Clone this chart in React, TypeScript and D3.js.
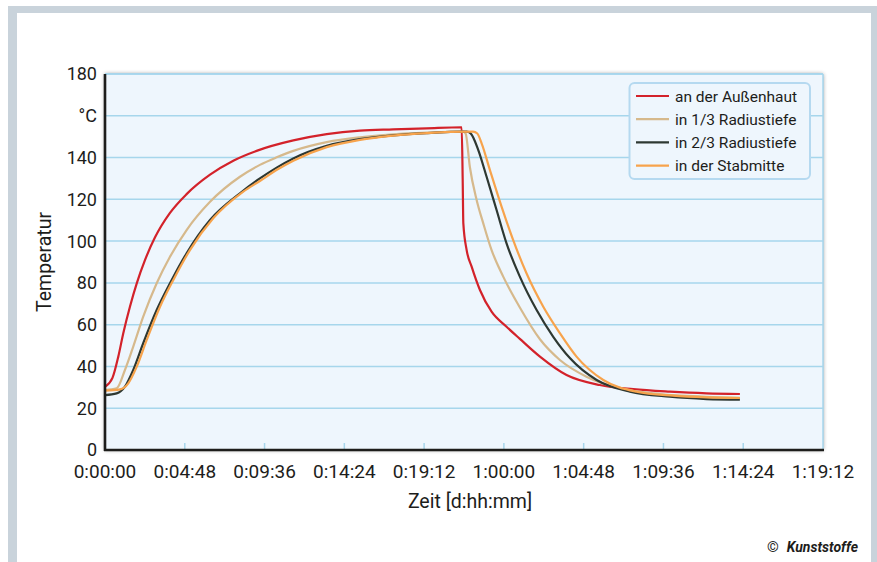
import * as d3 from "d3";
import React from "react";

// time in minutes (axis tick every 4.8 min), temperature in °C
const xTickValues = [0, 4.8, 9.6, 14.4, 19.2, 24, 28.8, 33.6, 38.4, 43.2];
const xTickLabels = ["0:00:00", "0:04:48", "0:09:36", "0:14:24", "0:19:12", "1:00:00", "1:04:48", "1:09:36", "1:14:24", "1:19:12"];
const yTickValues = [0, 20, 40, 60, 80, 100, 120, 140, 160, 180];
const yTickLabels = ["0", "20", "40", "60", "80", "100", "120", "140", "°C", "180"];

const seriesNames = ["an der Außenhaut", "in 1/3 Radiustiefe", "in 2/3 Radiustiefe", "in der Stabmitte"];
const seriesColors = ["#d3222a", "#d6b98c", "#2e3832", "#f7a34c"];

const aussenhaut: [number, number][] = [
  [0, 30.3], [0.45, 34.5], [0.8, 44.7], [1.1, 55.9], [1.5, 68.6], [1.91, 79.8], [2.41, 91], [3.01, 101.8],
  [3.91, 113.5], [4.91, 122.5], [6.32, 131.8], [7.72, 138.5], [9.12, 143.2], [11.33, 148.2], [13.34, 151.2],
  [15.34, 152.9], [17.34, 153.5], [19.35, 154], [21.46, 154.5], [21.52, 130], [21.56, 108.5], [21.76, 95.7],
  [22.06, 87.8], [22.56, 76.6], [23.26, 66.2], [24.16, 59], [24.96, 53.2], [26.17, 44.7], [27.77, 35.9],
  [29.77, 31.1], [31.78, 29.1], [33.98, 27.9], [36.19, 27.1], [38.2, 26.8],
];
const radius13: [number, number][] = [
  [0, 28.7], [0.7, 29.5], [1.2, 38.3], [1.7, 49.5], [2.3, 63.8], [3.11, 79.8], [3.91, 92.5], [4.91, 105.3],
  [6.32, 118.8], [8.12, 130.8], [9.32, 136.5], [10.33, 140.1], [11.33, 143.2], [13.34, 147.4], [15.34, 149.7],
  [17.34, 151.1], [19.35, 151.9], [21.55, 152.4], [21.7, 151.5], [21.95, 135.6], [22.36, 119.7], [22.76, 108.5],
  [23.26, 95.7], [23.96, 83], [24.96, 68.2], [26.17, 53], [27.37, 43.1], [28.97, 35.1], [30.98, 29.5],
  [33.38, 26.8], [36.19, 25.5], [38.2, 25],
];
const radius23: [number, number][] = [
  [0, 26.3], [0.7, 27.1], [1.2, 30.3], [1.7, 38.3], [2.3, 51.1], [3.11, 67], [3.91, 79.8], [4.91, 94.2],
  [6.32, 110.1], [8.12, 122.9], [9.32, 130], [10.33, 135.2], [11.33, 139.6], [13.34, 145.6], [15.34, 148.8],
  [17.34, 150.6], [19.35, 151.7], [21.76, 152.4], [22.0, 151.6], [22.46, 143.6], [22.96, 130.8], [23.56, 114.9],
  [24.16, 98.9], [24.96, 83], [25.97, 67], [26.97, 54.2], [27.97, 44], [29.58, 33.5], [31.58, 27.9],
  [33.98, 25.5], [36.19, 24.4], [38.2, 24.1],
];
const stabmitte: [number, number][] = [
  [0, 28.4], [0.9, 29], [1.4, 31.9], [1.91, 39.9], [2.51, 52.7], [3.31, 68.6], [4.11, 81.4], [5.11, 95.7],
  [6.51, 110.9], [8.32, 123.7], [9.32, 128.8], [10.42, 134.5], [11.33, 138.5], [13.34, 145], [15.34, 148.5],
  [17.34, 150.5], [19.35, 151.7], [22.15, 152.4], [22.4, 151.5], [22.66, 146.8], [23.16, 134], [23.86, 116.5],
  [24.56, 100.5], [25.36, 84.6], [26.37, 68.6], [27.37, 55.9], [28.37, 44.7], [29.98, 33.5], [31.98, 27.9],
  [34.18, 26], [36.19, 25.2], [38.2, 24.9],
];
const seriesData = [aussenhaut, radius13, radius23, stabmitte];

const W = 877;
const H = 562;
const left = 105;
const right = 823;
const top = 74;
const bottom = 450;
const font = "Roboto, 'Open Sans', sans-serif";

export default function App() {
  const x = d3.scaleLinear().domain([0, 43.2]).range([left, right]);
  const y = d3.scaleLinear().domain([0, 180]).range([bottom, top]);
  const line = d3
    .line<[number, number]>()
    .x((d) => x(d[0]))
    .y((d) => y(d[1]))
    .curve(d3.curveMonotoneX);

  return (
    <svg width={W} height={H} style={{ position: "absolute", left: 0, top: 0 }} fontFamily={font}>
      <defs>
        <filter id="shadow" x="-5%" y="-5%" width="110%" height="110%">
          <feDropShadow dx="0" dy="0" stdDeviation="2.2" floodColor="#000" floodOpacity="0.45" />
        </filter>
        <clipPath id="plotclip">
          <rect x={left} y={top} width={right - left} height={bottom - top} />
        </clipPath>
      </defs>
      <rect x={0} y={0} width={W} height={H} fill="#fff" />
      {/* grey frame */}
      <rect x={8} y={6} width={W - 8} height={7} fill="#c9d3db" />
      <rect x={8} y={6} width={9} height={H - 6} fill="#c9d3db" />
      <rect x={871} y={6} width={6} height={H - 6} fill="#c9d3db" />

      {/* plot background */}
      <rect x={left} y={top} width={right - left} height={bottom - top} fill="#eef6fd" filter="url(#shadow)" />
      {yTickValues.slice(1).map((v) => (
        <line key={v} x1={left} x2={right} y1={y(v)} y2={y(v)} stroke="#a6d6ec" strokeWidth={1.5} />
      ))}
      {xTickValues.slice(1, -1).map((v) => (
        <line key={v} x1={x(v)} x2={x(v)} y1={bottom} y2={bottom - 7} stroke="#a6d6ec" strokeWidth={1.5} />
      ))}
      <line x1={left} x2={right} y1={top} y2={top} stroke="#a6d6ec" strokeWidth={1.5} />
      <line x1={right} x2={right} y1={top} y2={bottom} stroke="#a6d6ec" strokeWidth={1.5} />

      <g clipPath="url(#plotclip)">
        {seriesData.map((d, i) => (
          <path key={i} d={line(d) || ""} fill="none" stroke={seriesColors[i]} strokeWidth={2.2} strokeLinejoin="round" />
        ))}
      </g>

      <line x1={left} x2={left} y1={top} y2={bottom + 1} stroke="#1d1d1b" strokeWidth={2.6} />
      <line x1={left - 1} x2={right + 1} y1={bottom} y2={bottom} stroke="#1d1d1b" strokeWidth={2.6} />

      {/* y labels */}
      {yTickValues.map((v, i) => (
        <text key={v} x={97} y={y(v)} dy="0.36em" textAnchor="end" fontSize={18} fill="#1d1d1b">
          {yTickLabels[i]}
        </text>
      ))}
      {/* x labels */}
      {xTickValues.map((v, i) => (
        <text key={v} x={x(v)} y={478} textAnchor="middle" fontSize={19} fill="#1d1d1b">
          {xTickLabels[i]}
        </text>
      ))}
      <text x={470} y={508} textAnchor="middle" fontSize={19.5} fill="#1d1d1b">
        Zeit [d:hh:mm]
      </text>
      <text transform="translate(51,262) rotate(-90)" textAnchor="middle" fontSize={19.5} fill="#1d1d1b">
        Temperatur
      </text>

      {/* legend */}
      <rect x={629.5} y={83} width={180.5} height={96} rx={5} fill="#eef6fd" stroke="#b5d9f0" strokeWidth={2} />
      {seriesNames.map((n, i) => (
        <g key={n} transform={`translate(0,${96 + i * 23.2})`}>
          <line x1={636} x2={669} y1={0} y2={0} stroke={seriesColors[i]} strokeWidth={2.2} />
          <text x={675} y={0} dy="0.36em" fontSize={15.5} fill="#1d1d1b">
            {n}
          </text>
        </g>
      ))}

      <text x={858} y={552} textAnchor="end" fontSize={14} fill="#1d1d1b">
        <tspan fontSize={15}>©</tspan>
        <tspan dx={8} fontWeight="bold" fontStyle="italic">Kunststoffe</tspan>
      </text>
    </svg>
  );
}
